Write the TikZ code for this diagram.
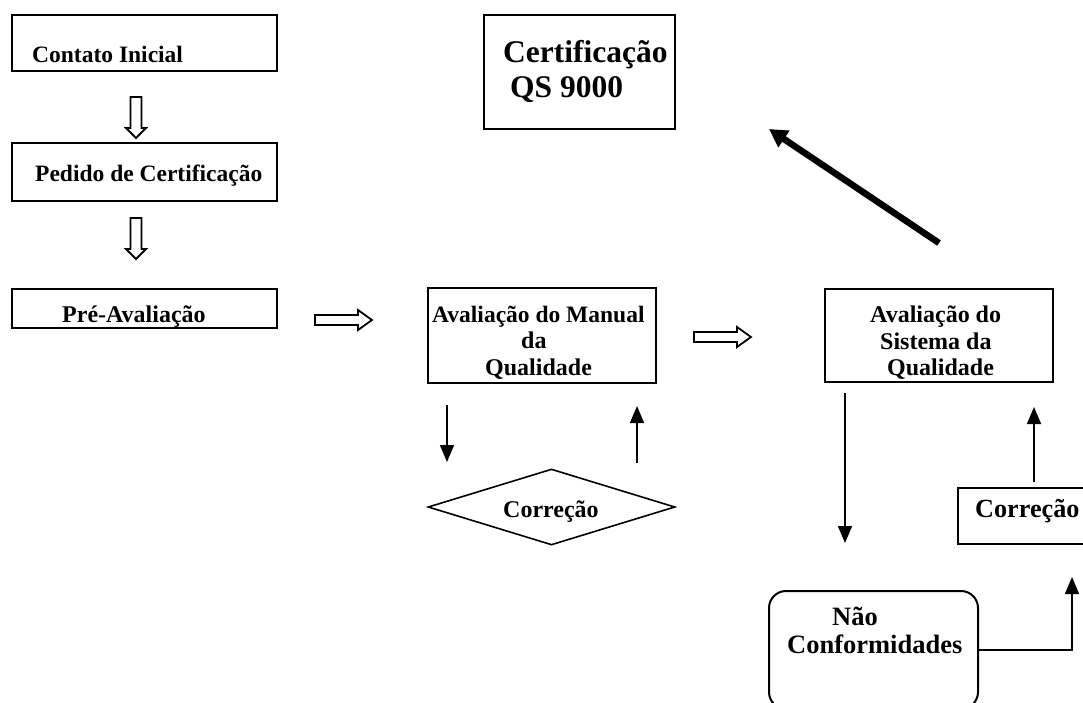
\documentclass[tikz,border=0pt]{standalone}
\usepackage{fontspec}
\setmainfont{Liberation Serif}
\usetikzlibrary{shapes.geometric,arrows.meta}
\begin{document}
\begin{tikzpicture}[x=1pt,y=-1pt,
  box/.style={draw,rectangle,line width=2pt,inner sep=0pt},
  label/.style={anchor=base west,inner sep=0pt,font=\fontsize{24}{28}\selectfont\bfseries},
  smalllabel/.style={anchor=base west,inner sep=0pt,font=\fontsize{23.5}{28}\selectfont\bfseries},
  largelabel/.style={anchor=base west,inner sep=0pt,font=\fontsize{26.2}{30}\selectfont\bfseries},
  biglabel/.style={anchor=base west,inner sep=0pt,font=\fontsize{31.5}{36}\selectfont\bfseries},
  thinarrow/.style={line width=1.6pt,-{Triangle[length=17pt,width=14pt]}},
  thickarrow/.style={line width=6.5pt,-{Triangle[length=18pt,width=19pt]}},
  hollow/.style={draw,line width=1.8pt,fill=white,line join=miter},
  pics/downblock/.style={code={
    \path[hollow] (-5.5,0) -- (5.5,0) -- (5.5,31) -- (10,31) -- (0,41)
      -- (-10,31) -- (-5.5,31) -- cycle;}},
  pics/rightblock/.style={code={
    \path[hollow] (0,-5) -- (43,-5) -- (43,-10) -- (57,0) -- (43,10)
      -- (43,5) -- (0,5) -- cycle;}},
]
\clip (0,0) rectangle (1083,702);

% left column
\node[box,minimum width=265pt,minimum height=56pt] (contato) at (144.5,43) {};
\node[smalllabel] (tcontato) at (32,62) {Contato Inicial};
\node[box,minimum width=265pt,minimum height=58pt] (pedido) at (144.5,172) {};
\node[smalllabel] (tpedido) at (35,181) {Pedido de Certificação};
\node[box,minimum width=265pt,minimum height=39pt] (pre) at (144.5,308.5) {};
\node[label] (tpre) at (62,322) {Pré-Avaliação};

\pic at (136,97) {downblock};
\pic at (136,218) {downblock};
\pic at (315,320) {rightblock};
\pic at (694,337) {rightblock};

% certification
\node[box,minimum width=191pt,minimum height=114pt] (cert) at (579.5,72) {};
\node[biglabel] (tcert1) at (503,62) {Certificação};
\node[biglabel] (tcert2) at (510,97) {QS 9000};

% quality manual assessment
\node[box,minimum width=228pt,minimum height=95pt] (manual) at (542,335.5) {};
\node[smalllabel] (tman1) at (432,322) {Avaliação do Manual};
\node[label] (tman2) at (521,348) {da};
\node[label] (tman3) at (485,375) {Qualidade};

\node[draw,diamond,line width=1.6pt,inner sep=0pt,minimum width=247pt,minimum height=76pt] (corr1) at (551.5,507) {};
\node[label] (tcorr1) at (503,517) {Correção};

% quality system assessment
\node[box,minimum width=228pt,minimum height=93pt] (sistema) at (939,335.5) {};
\node[label] (tsis1) at (870,322) {Avaliação do};
\node[label] (tsis2) at (880,349) {Sistema da};
\node[label] (tsis3) at (887,375) {Qualidade};

\node[box,minimum width=140pt,minimum height=56pt] (corr2) at (1028,516) {};
\node[largelabel] (tcorr2) at (975,517) {Correção};

\node[draw,line width=2pt,rounded corners=17pt,minimum width=209pt,minimum height=118pt,inner sep=0pt] (nc) at (873.5,650) {};
\node[largelabel,font=\fontsize{26.5}{30}\selectfont\bfseries] (tnc1) at (832,625) {Não};
\node[largelabel,font=\fontsize{26.5}{30}\selectfont\bfseries] (tnc2) at (787,653) {Conformidades};

% connector end points
\coordinate (a1) at (447,405);
\coordinate (a2) at (447,462);
\coordinate (b1) at (637,463);
\coordinate (b2) at (637,406);
\coordinate (c1) at (845,393);
\coordinate (c2) at (845,543);
\coordinate (d1) at (1034,482);
\coordinate (d2) at (1034,407);
\coordinate (e1) at (1072,577);
\coordinate (f1) at (939,243);
\coordinate (f2) at (769,129);

\draw[thinarrow] (a1) -- (a2);
\draw[thinarrow] (b1) -- (b2);
\draw[thinarrow] (c1) -- (c2);
\draw[thinarrow] (d1) -- (d2);
\draw[thinarrow] (nc.east) -| (e1);
\draw[thickarrow] (f1) -- (f2);
\end{tikzpicture}
\end{document}
